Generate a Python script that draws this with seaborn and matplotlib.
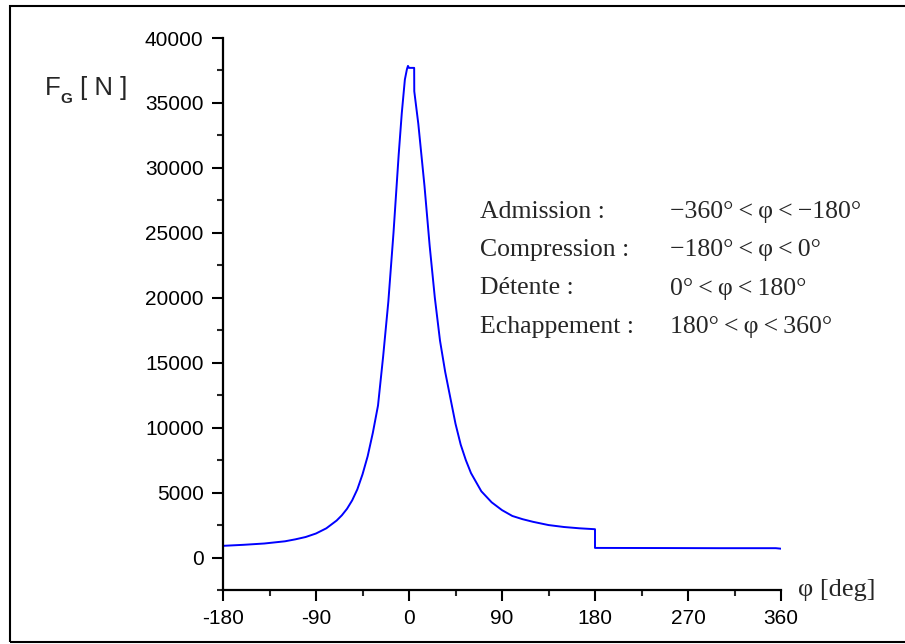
import numpy as np
import pandas as pd
import matplotlib
matplotlib.use("Agg")
import matplotlib.pyplot as plt
from matplotlib.ticker import MultipleLocator
from matplotlib.patches import Rectangle
import seaborn as sns

# crank angle [deg] and gas force [N]
phi = [-180, -160, -140, -120, -110, -100, -90, -80, -70, -65, -60, -55,
       -50, -45, -40, -35, -30, -25, -20, -15, -12, -10, -7, -4, -2, -1,
       0, 5, 5.1, 9, 12, 15, 20, 25, 30, 35, 40, 45, 50, 55, 60, 65, 70,
       80, 90, 100, 110, 120, 135, 150, 165, 180, 180, 250, 300, 355, 360]
force = [900, 980, 1080, 1250, 1400, 1580, 1850, 2250, 2850, 3250, 3750,
         4400, 5250, 6400, 7800, 9600, 11700, 15500, 19700, 25000, 28600,
         31000, 34200, 36800, 37600, 37850, 37700, 37700, 35900, 33400,
         31000, 28600, 24000, 20000, 16700, 14300, 12300, 10300, 8700,
         7500, 6500, 5800, 5100, 4250, 3650, 3200, 2950, 2750, 2500, 2350,
         2250, 2180, 740, 730, 720, 720, 680]

phases = ["Admission :", "Compression :", "Détente :", "Echappement :"]
ranges = ["−360°\u2009<\u2009φ\u2009<\u2009−180°", "−180°\u2009<\u2009φ\u2009<\u20090°",
          "0°\u2009<\u2009φ\u2009<\u2009180°", "180°\u2009<\u2009φ\u2009<\u2009360°"]

xticks = [-180, -90, 0, 90, 180, 270, 360]
yticks = list(range(0, 40001, 5000))

sns.set_style("ticks")
plt.rcParams['font.family'] = ['Liberation Sans', 'DejaVu Sans']
plt.rcParams['axes.unicode_minus'] = False

W, H = 905, 644
fig = plt.figure(figsize=(W / 100, H / 100), dpi=100)
ax = fig.add_axes([223 / W, 1 - 590 / H, (781 - 223) / W, (590 - 38) / H])

df = pd.DataFrame({"phi": phi, "force": force})
sns.lineplot(data=df, x="phi", y="force", ax=ax, estimator=None, sort=False,
             color="#0000ff", lw=1.4)

ax.set_xlim(-180, 360)
ax.set_ylim(-2500, 40000)
ax.set_xticks(xticks)
ax.set_yticks(yticks)
ax.xaxis.set_minor_locator(MultipleLocator(45))
ax.yaxis.set_minor_locator(MultipleLocator(2500))
ax.set_xlabel("")
ax.set_ylabel("")
sns.despine(ax=ax)
for s in ["left", "bottom"]:
    ax.spines[s].set_linewidth(1.6)
    ax.spines[s].set_color("black")
ax.tick_params(which="major", length=8, width=1.5, labelsize=15, pad=6,
               colors="black", direction="out")
ax.tick_params(which="minor", length=4.5, width=1.5, direction="out")

# y label : F with a small bold G below, then [ N ]
fig.text(45 / W, 1 - 95 / H, "F", fontsize=18.5, ha="left", va="baseline")
fig.text(60.5 / W, 1 - 103 / H, "G", fontsize=11, fontweight="bold",
         ha="left", va="baseline")
fig.text(80 / W, 1 - 95 / H, "[ N ]", fontsize=18.5, ha="left", va="baseline")
# x label
fig.text(798 / W, 1 - 596 / H, "φ [deg]", fontsize=19,
         family=["Liberation Serif", "DejaVu Serif"], ha="left", va="baseline")

baselines = [218, 256, 294.5, 333]
for lab, rng, yb in zip(phases, ranges, baselines):
    fig.text(480 / W, 1 - yb / H, lab, fontsize=18.5,
             family=["Liberation Serif", "DejaVu Serif"], ha="left", va="baseline")
    fig.text(670 / W, 1 - yb / H, rng, fontsize=18.5,
             family=["Liberation Serif", "DejaVu Serif"], ha="left", va="baseline")

# frame round the figure
fig.patches.append(Rectangle((10 / W, 2 / H), 1.05, 1 - 8 / H, transform=fig.transFigure,
                             fill=False, lw=1.5, edgecolor="black"))

fig.savefig("out.png", dpi=100)
